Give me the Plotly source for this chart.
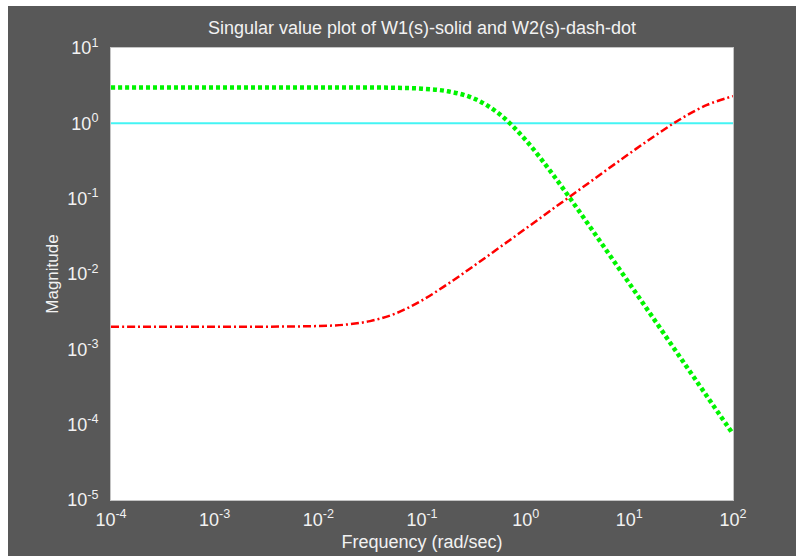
import plotly.graph_objects as go

# Frequency grid (rad/sec) and singular values of the two weighting functions
freq = [1e-4, 1.78e-4, 3.16e-4, 5.62e-4, 1e-3, 1.78e-3, 3.16e-3, 5.62e-3,
        1e-2, 1.78e-2, 3.16e-2, 5.62e-2, 1e-1, 1.78e-1, 3.16e-1, 5.62e-1,
        1.0, 1.78, 3.16, 5.62, 10.0, 17.8, 31.6, 56.2, 100.0]

w1_mag = [3.0, 3.0, 3.0, 3.0, 3.0, 3.0, 3.0, 3.0,
          3.0, 2.99, 2.99, 2.96, 2.885, 2.66, 2.14, 1.32,
          0.60, 0.22, 0.0732, 0.0235, 0.00748, 0.00237, 7.5e-4, 2.37e-4, 7.5e-5]

w2_mag = [0.002, 0.002, 0.002, 0.002, 0.002, 0.002, 0.002, 0.00201,
          0.00204, 0.00212, 0.00237, 0.00301, 0.00447, 0.00739, 0.0128, 0.0226,
          0.0400, 0.0712, 0.126, 0.224, 0.396, 0.690, 1.153, 1.754, 2.294]

unity = [1.0, 1.0]
unity_freq = [1e-4, 1e2]

x_exponents = [-4, -3, -2, -1, 0, 1, 2]
y_exponents = [-5, -4, -3, -2, -1, 0, 1]

title_text = "Singular value plot of W1(s)-solid and W2(s)-dash-dot"
x_title = "Frequency (rad/sec)"
y_title = "Magnitude"

FIG_BG = "#585858"
TEXT = "#f2f2f2"
FONT = "Liberation Sans, Arial, sans-serif"


def power_labels(exps):
    return ["10<sup>%d</sup>" % e for e in exps]


fig = go.Figure()

fig.add_trace(go.Scatter(
    x=unity_freq, y=unity, mode="lines",
    line=dict(color="#44f4f4", width=2),
    hoverinfo="skip", showlegend=False,
))
fig.add_trace(go.Scatter(
    x=freq, y=w2_mag, mode="lines", line_shape="spline",
    line=dict(color="#ff0000", width=2.5, dash="8px,3px,2px,3px"),
    showlegend=False,
))
fig.add_trace(go.Scatter(
    x=freq, y=w1_mag, mode="lines", line_shape="spline",
    line=dict(color="#00f400", width=4.5, dash="4px,3px"),
    showlegend=False,
))

# Thin white strips along the top and left edges of the figure window
L, R, T, B = 111, 63, 48, 56
W, H = 796, 556
pw, ph = W - L - R, H - T - B
fig.add_shape(type="rect", xref="paper", yref="paper",
              x0=-L / pw, x1=-(L - 8) / pw, y0=-B / ph, y1=1 + T / ph,
              fillcolor="white", line_width=0, layer="below")
fig.add_shape(type="rect", xref="paper", yref="paper",
              x0=-L / pw, x1=1 + R / pw, y0=1 + (T - 6) / ph, y1=1 + T / ph,
              fillcolor="white", line_width=0, layer="below")

axis_common = dict(
    type="log",
    showgrid=False, zeroline=False,
    showline=True, linecolor="#c4c4c4", linewidth=1, mirror=True,
    ticks="", automargin=False,
    tickfont=dict(family=FONT, size=18, color=TEXT),
)

fig.update_layout(
    width=W, height=H,
    margin=dict(l=L, r=R, t=T, b=B, autoexpand=False),
    paper_bgcolor=FIG_BG,
    plot_bgcolor="white",
    title=dict(text=title_text, x=(L + pw / 2) / W, xanchor="center",
               y=1 - 28 / H, yanchor="middle",
               font=dict(family=FONT, size=18, color=TEXT)),
    xaxis=dict(range=[-4, 2],
               tickvals=[10.0 ** e for e in x_exponents],
               ticktext=power_labels(x_exponents),
               ticklabelstandoff=3,
               title=dict(text=x_title, standoff=6,
                          font=dict(family=FONT, size=18, color=TEXT)),
               **axis_common),
    yaxis=dict(range=[-5, 1],
               tickvals=[10.0 ** e for e in y_exponents],
               ticktext=power_labels(y_exponents),
               ticklabelstandoff=8,
               title=dict(text=y_title, standoff=4,
                          font=dict(family=FONT, size=17, color=TEXT)),
               **axis_common),
)

fig.write_html("out.html")
